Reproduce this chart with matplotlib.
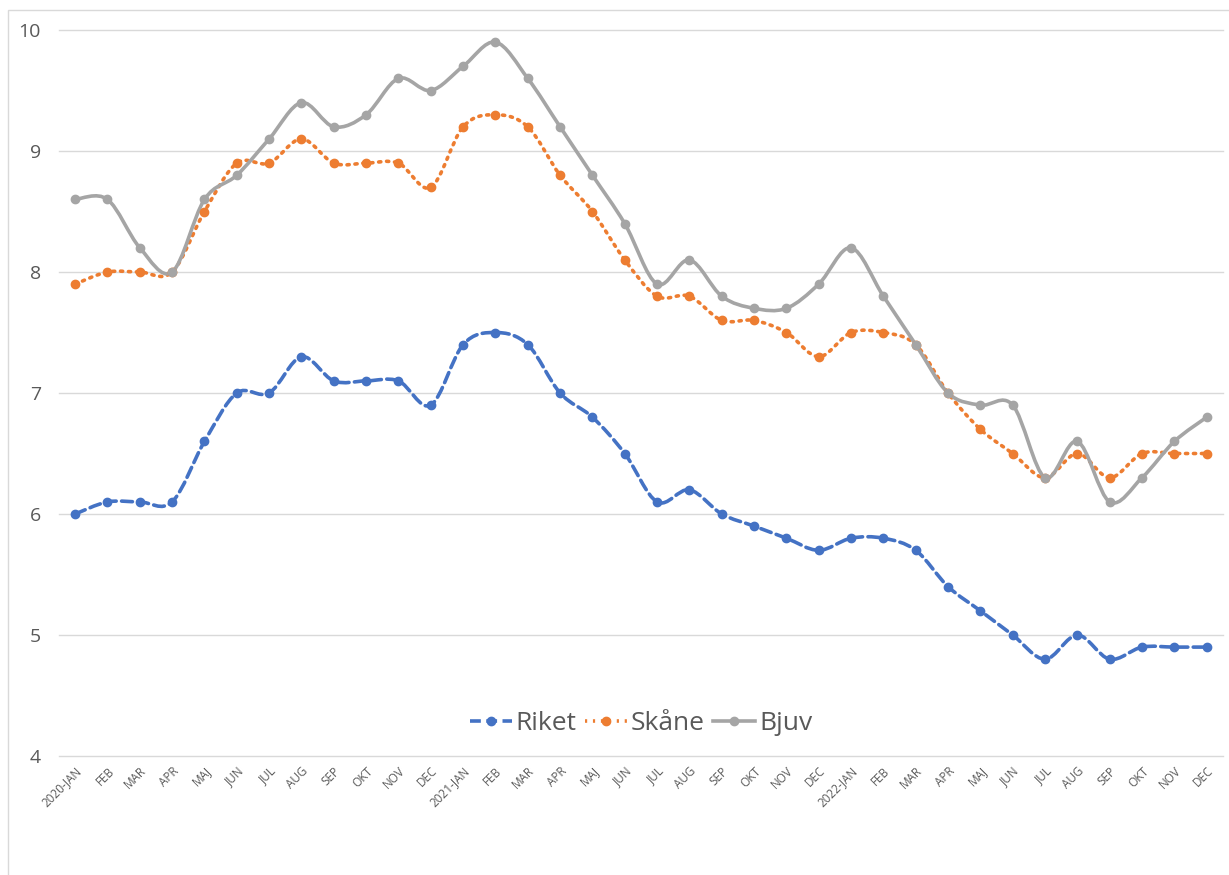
import matplotlib.pyplot as plt
import numpy as np
from matplotlib.path import Path
from matplotlib.patches import PathPatch
from matplotlib.lines import Line2D

plt.rcParams['font.family'] = ['Open Sans', 'DejaVu Sans']

months = ['2020-JAN', 'FEB', 'MAR', 'APR', 'MAJ', 'JUN', 'JUL', 'AUG', 'SEP', 'OKT', 'NOV', 'DEC',
          '2021-JAN', 'FEB', 'MAR', 'APR', 'MAJ', 'JUN', 'JUL', 'AUG', 'SEP', 'OKT', 'NOV', 'DEC',
          '2022-JAN', 'FEB', 'MAR', 'APR', 'MAJ', 'JUN', 'JUL', 'AUG', 'SEP', 'OKT', 'NOV', 'DEC']

riket = [6.0, 6.1, 6.1, 6.1, 6.6, 7.0, 7.0, 7.3, 7.1, 7.1, 7.1, 6.9,
         7.4, 7.5, 7.4, 7.0, 6.8, 6.5, 6.1, 6.2, 6.0, 5.9, 5.8, 5.7,
         5.8, 5.8, 5.7, 5.4, 5.2, 5.0, 4.8, 5.0, 4.8, 4.9, 4.9, 4.9]
skane = [7.9, 8.0, 8.0, 8.0, 8.5, 8.9, 8.9, 9.1, 8.9, 8.9, 8.9, 8.7,
         9.2, 9.3, 9.2, 8.8, 8.5, 8.1, 7.8, 7.8, 7.6, 7.6, 7.5, 7.3,
         7.5, 7.5, 7.4, 7.0, 6.7, 6.5, 6.3, 6.5, 6.3, 6.5, 6.5, 6.5]
bjuv = [8.6, 8.6, 8.2, 8.0, 8.6, 8.8, 9.1, 9.4, 9.2, 9.3, 9.6, 9.5,
        9.7, 9.9, 9.6, 9.2, 8.8, 8.4, 7.9, 8.1, 7.8, 7.7, 7.7, 7.9,
        8.2, 7.8, 7.4, 7.0, 6.9, 6.9, 6.3, 6.6, 6.1, 6.3, 6.6, 6.8]


def smooth_path(x, y, t=1/6):
    # Bezier path through the points, similar to Excel's smoothed line
    x = np.asarray(x, float)
    y = np.asarray(y, float)
    verts = [(x[0], y[0])]
    codes = [Path.MOVETO]
    n = len(x)
    for i in range(n - 1):
        p0 = np.array([x[max(i - 1, 0)], y[max(i - 1, 0)]])
        p1 = np.array([x[i], y[i]])
        p2 = np.array([x[i + 1], y[i + 1]])
        p3 = np.array([x[min(i + 2, n - 1)], y[min(i + 2, n - 1)]])
        c1 = p1 + (p2 - p0) * t
        c2 = p2 - (p3 - p1) * t
        verts += [tuple(c1), tuple(c2), tuple(p2)]
        codes += [Path.CURVE4] * 3
    return Path(verts, codes)


fig = plt.figure(figsize=(12.29, 8.75), dpi=100)
ax = fig.add_axes([0.048, 0.136, 0.947, 0.8297])

x = np.arange(len(months))
series = [('Riket', riket, '#4472C4', (0, (3, 1.5))),
          ('Skåne', skane, '#ED7D31', (0, (0.6, 1.6))),
          ('Bjuv', bjuv, '#A5A5A5', '-')]

handles = []
for name, vals, col, ls in series:
    patch = PathPatch(smooth_path(x, vals), facecolor='none', edgecolor=col,
                      lw=2.6, linestyle=ls, capstyle='round' if ls != '-' else 'butt', zorder=3)
    ax.add_patch(patch)
    ax.plot(x, vals, 'o', color=col, ms=6, zorder=4)
    handles.append(Line2D([], [], color=col, lw=2.6, linestyle=ls, marker='o', ms=6, label=name))

ax.set_xlim(-0.5, len(months) - 0.5)
ax.set_ylim(4, 10)
ax.set_yticks([4, 5, 6, 7, 8, 9, 10])
ax.set_xticks(x)
ax.set_xticklabels(months, rotation=45, ha='right', rotation_mode='anchor',
                   fontsize=8.5, color='#595959')
ax.tick_params(axis='y', labelsize=14, labelcolor='#595959', length=0, pad=13)
ax.tick_params(axis='x', length=0, pad=6)
ax.grid(axis='y', color='#D9D9D9', lw=1, clip_on=False)
ax.set_axisbelow(True)
for s in ax.spines.values():
    s.set_visible(False)

ax.legend(handles=handles, loc='center', bbox_to_anchor=(0.5, 0.045), ncol=3,
          frameon=False, fontsize=19, labelcolor='#595959', handlelength=1.6,
          handletextpad=0.15, columnspacing=0.3)

# outer chart border
fig.add_artist(plt.Rectangle((8 / 1229, -0.05), 1.1, 1 - 10 / 875 + 0.05, transform=fig.transFigure,
                             fill=False, edgecolor='#D9D9D9', lw=1))

fig.savefig('out.png', dpi=100)
